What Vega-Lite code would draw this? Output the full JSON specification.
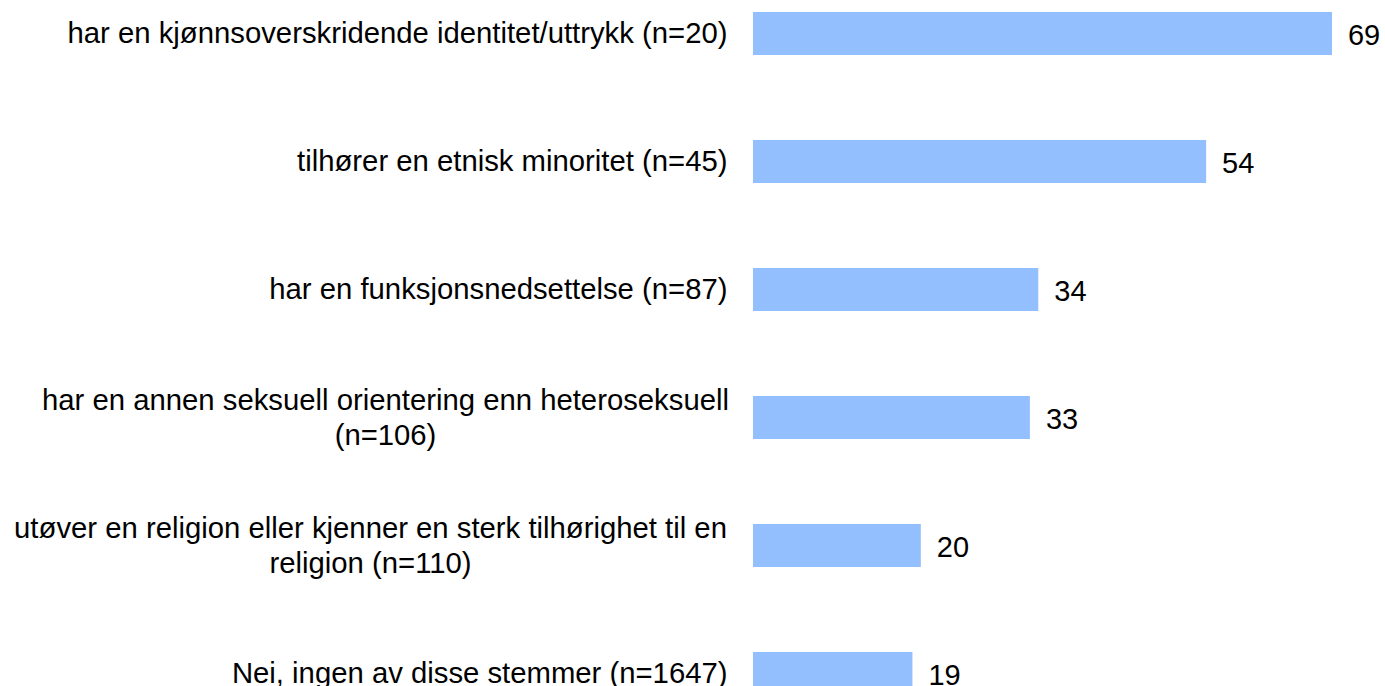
{
  "$schema": "https://vega.github.io/schema/vega-lite/v6.json",
  "autosize": "none",
  "padding": {"left": 753, "top": 0, "right": 53, "bottom": 0},
  "width": 579,
  "height": {"step": 128},
  "background": "white",
  "config": {"view": {"stroke": null}, "font": "Liberation Sans"},
  "data": {
    "values": [
      {"category": "har en kjønnsoverskridende identitet/uttrykk (n=20)", "value": 69},
      {"category": "tilhører en etnisk minoritet (n=45)", "value": 54},
      {"category": "har en funksjonsnedsettelse (n=87)", "value": 34},
      {"category": "har en annen seksuell orientering enn heteroseksuell|(n=106)", "value": 33},
      {"category": "utøver en religion eller kjenner en sterk tilhørighet til en|religion (n=110)", "value": 20},
      {"category": "Nei, ingen av disse stemmer (n=1647)", "value": 19}
    ]
  },
  "encoding": {
    "y": {
      "field": "category",
      "type": "nominal",
      "sort": null,
      "scale": {"paddingInner": 0.664, "paddingOuter": 0.094},
      "axis": {
        "title": null,
        "domain": false,
        "ticks": false,
        "labelExpr": "split(datum.label, '|')",
        "labelFont": "Liberation Sans",
        "labelFontSize": 29.3,
        "labelColor": "#000000",
        "labelLimit": 1000,
        "labelLineHeight": 35,
        "labelAlign": {"condition": {"test": "indexof(datum.value, '|') >= 0", "value": "center"}, "value": "right"},
        "labelOffset": {"condition": {"test": "indexof(datum.value, '|') >= 0", "value": -17}, "value": 0},
        "labelPadding": {"condition": [
          {"test": "indexof(datum.value, 'seksuell') >= 0", "value": 368},
          {"test": "indexof(datum.value, 'religion') >= 0", "value": 383}
        ], "value": 26}
      }
    }
  },
  "layer": [
    {
      "mark": {"type": "bar", "color": "#93BFFF"},
      "encoding": {
        "x": {"field": "value", "type": "quantitative", "scale": {"domain": [0, 69], "nice": false}, "axis": null}
      }
    },
    {
      "mark": {"type": "text", "align": "left", "baseline": "middle", "dx": 16, "dy": 2, "fontSize": 29, "font": "Liberation Sans", "color": "#000000"},
      "encoding": {
        "x": {"field": "value", "type": "quantitative"},
        "text": {"field": "value", "type": "quantitative"}
      }
    }
  ]
}
